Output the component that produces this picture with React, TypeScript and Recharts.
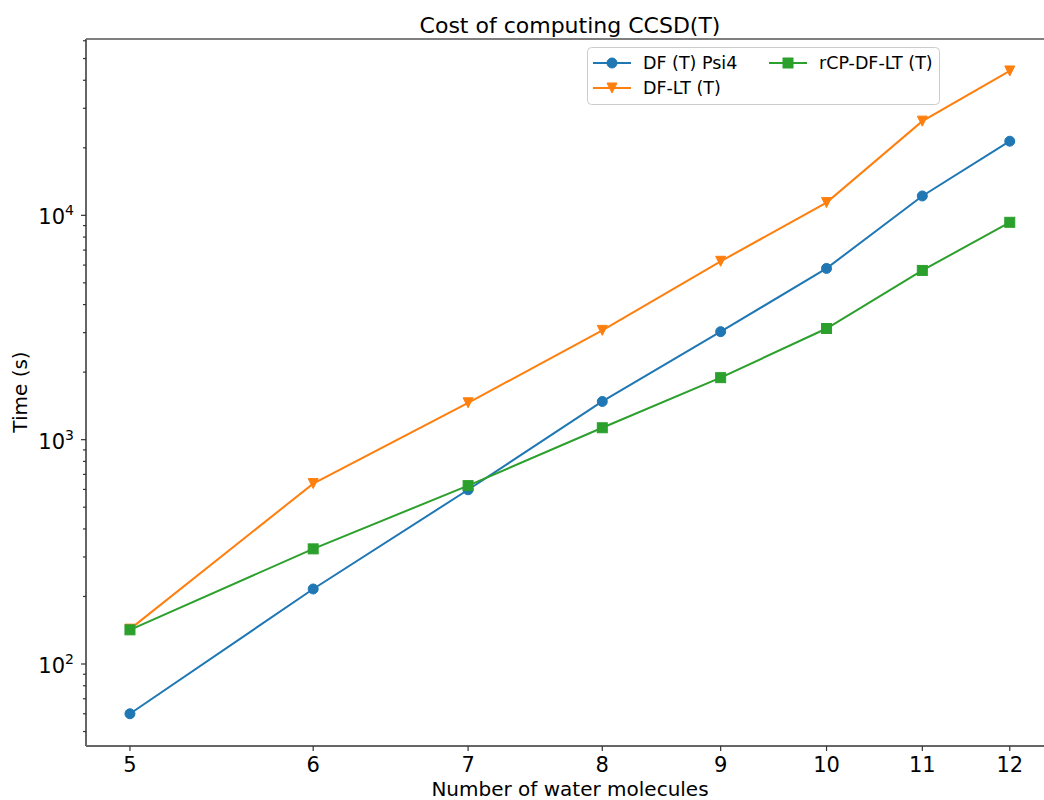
import { LineChart, Line, XAxis, YAxis, Legend, ReferenceLine } from 'recharts';

// number of water molecules in the cluster
const waters = [5, 6, 7, 8, 9, 10, 11, 12];

// wall time in seconds for each method
const dfPsi4 = [60, 216, 598, 1480, 3030, 5800, 12200, 21400];
const dfLt = [143, 637, 1460, 3070, 6240, 11400, 26300, 44000];
const rcpDfLt = [142, 326, 624, 1130, 1890, 3130, 5680, 9310];

const xTicks = [5, 6, 7, 8, 9, 10, 11, 12];
const yMajorTicks = [100, 1000, 10000];
const yMinorTicks = [
  50, 60, 70, 80, 90,
  200, 300, 400, 500, 600, 700, 800, 900,
  2000, 3000, 4000, 5000, 6000, 7000, 8000, 9000,
  20000, 30000, 40000, 50000, 60000,
];

const xDomain = [4.786, 12.54];
const yDomain = [43.1, 61100];

const BLUE = '#1f77b4';
const ORANGE = '#ff7f0e';
const GREEN = '#2ca02c';
const FONT = '"DejaVu Sans", sans-serif';

const data = waters.map((n, i) => ({
  n,
  dfPsi4: dfPsi4[i],
  dfLt: dfLt[i],
  rcpDfLt: rcpDfLt[i],
}));

type Marker = 'circle' | 'triangle' | 'square';

function markerShape(kind: Marker, cx: number, cy: number, color: string, key?: string) {
  const h = 5;
  if (kind === 'circle') {
    return <circle key={key} cx={cx} cy={cy} r={h} fill={color} stroke={color} strokeWidth={1} />;
  }
  if (kind === 'triangle') {
    const pts = `${cx - h},${cy - h} ${cx + h},${cy - h} ${cx},${cy + h}`;
    return <polygon key={key} points={pts} fill={color} stroke={color} strokeWidth={1} />;
  }
  return <rect key={key} x={cx - h} y={cy - h} width={2 * h} height={2 * h} fill={color} stroke={color} strokeWidth={1} />;
}

function makeDot(kind: Marker, color: string) {
  return (props: any) => markerShape(kind, props.cx, props.cy, color, `${kind}-${props.index}`);
}

function YTick(props: any) {
  const { x, y, payload } = props;
  const lg = Math.log10(payload.value);
  const exp = Math.round(lg);
  const major = Math.abs(lg - exp) < 1e-9;
  return (
    <g>
      <line x1={x - (major ? 5 : 3)} x2={x} y1={y} y2={y} stroke="#333" strokeWidth={1.2} />
      {major && (
        <text x={x - 12} y={y + 9} textAnchor="end" fontSize={21} fontFamily={FONT} fill="#000">
          10<tspan dy={-9} fontSize={14}>{exp}</tspan>
        </text>
      )}
    </g>
  );
}

function XTick(props: any) {
  const { x, y, payload } = props;
  return (
    <g>
      <line x1={x} x2={x} y1={y} y2={y + 5} stroke="#333" strokeWidth={1.2} />
      <text x={x} y={y + 26} textAnchor="middle" fontSize={21} fontFamily={FONT} fill="#000">
        {payload.value}
      </text>
    </g>
  );
}

const legendItems: { label: string; color: string; kind: Marker; x: number; y: number }[] = [
  { label: 'DF (T) Psi4', color: BLUE, kind: 'circle', x: 6, y: 16 },
  { label: 'DF-LT (T)', color: ORANGE, kind: 'triangle', x: 6, y: 41 },
  { label: 'rCP-DF-LT (T)', color: GREEN, kind: 'square', x: 182, y: 16 },
];

function LegendBox() {
  return (
    <svg width={354} height={59} style={{ display: 'block' }}>
      <rect x={0.5} y={0.5} width={352} height={57} rx={4} fill="#fff" fillOpacity={0.8} stroke="#cccccc" />
      {legendItems.map((it) => (
        <g key={it.label}>
          <line x1={it.x} x2={it.x + 38} y1={it.y} y2={it.y} stroke={it.color} strokeWidth={2} />
          {markerShape(it.kind, it.x + 19, it.y, it.color)}
          <text x={it.x + 50} y={it.y + 6} fontSize={17.5} fontFamily={FONT} fill="#000">
            {it.label}
          </text>
        </g>
      ))}
    </svg>
  );
}

export default function App() {
  return (
    <div
      style={{
        position: 'absolute',
        left: 0,
        top: 0,
        width: 1044,
        height: 800,
        overflow: 'hidden',
        background: '#fff',
        fontFamily: FONT,
      }}
    >
      <LineChart width={1060} height={800} data={data} margin={{ top: 39, right: 6, left: 0, bottom: 0 }}>
        <XAxis
          dataKey="n"
          type="number"
          scale="log"
          domain={xDomain}
          ticks={xTicks}
          allowDataOverflow
          height={54}
          tickSize={0}
          tickMargin={0}
          tickLine={false}
          tick={<XTick />}
          axisLine={{ stroke: '#666', strokeWidth: 2 }}
          interval={0}
        />
        <YAxis
          type="number"
          scale="log"
          domain={yDomain}
          ticks={[...yMajorTicks, ...yMinorTicks]}
          allowDataOverflow
          width={86}
          tickSize={0}
          tickMargin={0}
          tickLine={false}
          tick={<YTick />}
          axisLine={{ stroke: '#666', strokeWidth: 2 }}
          interval={0}
        />
        <ReferenceLine y={yDomain[1]} stroke="#000" strokeWidth={1.2} />
        <Line
          dataKey="dfPsi4"
          stroke={BLUE}
          strokeWidth={2}
          dot={makeDot('circle', BLUE)}
          activeDot={false}
          isAnimationActive={false}
        />
        <Line
          dataKey="dfLt"
          stroke={ORANGE}
          strokeWidth={2}
          dot={makeDot('triangle', ORANGE)}
          activeDot={false}
          isAnimationActive={false}
        />
        <Line
          dataKey="rcpDfLt"
          stroke={GREEN}
          strokeWidth={2}
          dot={makeDot('square', GREEN)}
          activeDot={false}
          isAnimationActive={false}
        />
        <Legend
          layout="horizontal"
          verticalAlign="middle"
          align="center"
          content={() => <LegendBox />}
          wrapperStyle={{ position: 'absolute', left: 587, top: 47, width: 354, height: 59 }}
        />
        <text x={570} y={33} textAnchor="middle" fontSize={22} fontFamily={FONT} fill="#000">
          Cost of computing CCSD(T)
        </text>
        <text x={570} y={796} textAnchor="middle" fontSize={20} fontFamily={FONT} fill="#000">
          Number of water molecules
        </text>
        <text
          x={27}
          y={392}
          textAnchor="middle"
          fontSize={20}
          fontFamily={FONT}
          fill="#000"
          transform="rotate(-90, 27, 392)"
        >
          Time (s)
        </text>
      </LineChart>
    </div>
  );
}
